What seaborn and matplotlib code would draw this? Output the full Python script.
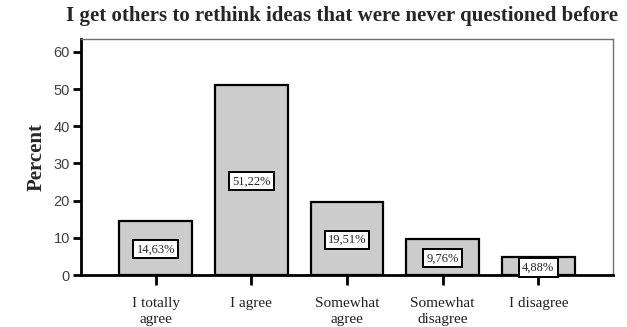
import matplotlib
matplotlib.use("Agg")
import matplotlib.pyplot as plt
import seaborn as sns
import pandas as pd

categories = ["I totally\nagree", "I agree", "Somewhat\nagree", "Somewhat\ndisagree", "I disagree"]
values = [14.63, 51.22, 19.51, 9.76, 4.88]
value_labels = ["14,63%", "51,22%", "19,51%", "9,76%", "4,88%"]
yticks = [0, 10, 20, 30, 40, 50, 60]

df = pd.DataFrame({"category": categories, "percent": values})

sns.set_theme(style="white")
plt.rcParams["font.family"] = ["Liberation Serif", "DejaVu Serif"]

fig = plt.figure(figsize=(6.27, 3.27), dpi=100)
ax = fig.add_axes([0.129, 0.159, 0.849, 0.721])

sns.barplot(data=df, x="category", y="percent", color="#cccccc",
            edgecolor="black", linewidth=1.6, width=0.76, saturation=1, ax=ax)
for p in ax.patches:
    p.set_facecolor("#cccccc")

ax.set_xlim(-0.783, 4.783)
ax.set_ylim(0, 63.4)
ax.set_yticks(yticks)
ax.set_yticklabels([str(t) for t in yticks], family="Liberation Sans", color="#404040", fontsize=10.5)
ax.set_xticks(range(len(categories)))
ax.set_xticklabels(categories, fontsize=11, color="#202020", linespacing=1.3)

ax.tick_params(axis="y", direction="out", length=6, width=2, color="black", pad=2, left=True)
ax.tick_params(axis="x", direction="out", length=7, width=2, color="black", pad=9, bottom=True)

for side in ["left", "bottom"]:
    ax.spines[side].set_linewidth(2)
    ax.spines[side].set_color("black")
for side in ["top", "right"]:
    ax.spines[side].set_linewidth(1)
    ax.spines[side].set_color("#707070")
    ax.spines[side].set_visible(True)

ax.set_xlabel("")
ax.set_ylabel("Percent", fontsize=15, fontweight="bold", labelpad=5)
ax.set_title("I get others to rethink ideas that were never questioned before",
             fontsize=15, fontweight="bold", x=0.49, pad=13)

for i, (v, lab) in enumerate(zip(values, value_labels)):
    ax.text(i, v / 2 - 0.4, lab, ha="center", va="center", fontsize=9,
            bbox=dict(boxstyle="square,pad=0.25", facecolor="white", edgecolor="black", linewidth=1.4))

ax.grid(False)
fig.savefig("out.png", dpi=100, facecolor="white")
